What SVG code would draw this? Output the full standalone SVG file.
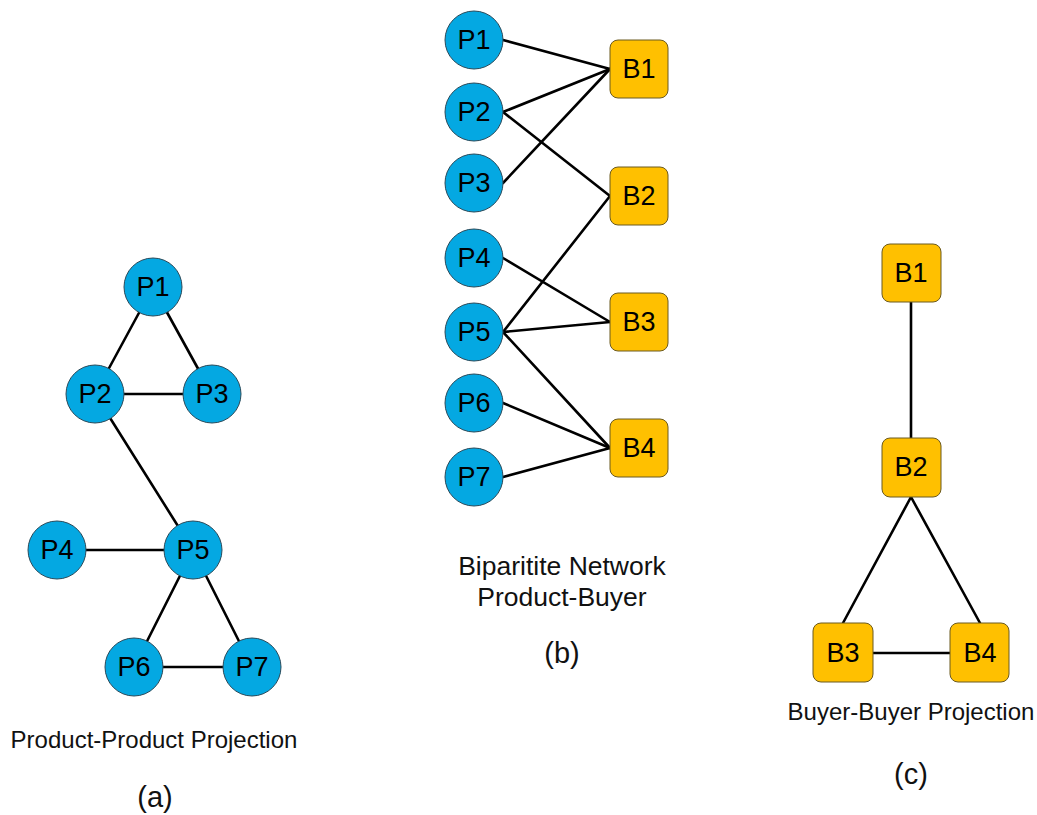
<svg xmlns="http://www.w3.org/2000/svg" width="1037" height="815" viewBox="0 0 1037 815">
<style>
.p{fill:#04A8E2;stroke:#2a4a5a;stroke-width:1}
.b{fill:#FFC000;stroke:#6b5a20;stroke-width:1}
.t{font-family:"Liberation Sans",Arial,sans-serif;font-size:27px;fill:#000;text-anchor:middle}
.c{font-family:"Liberation Sans",Arial,sans-serif;fill:#111;text-anchor:middle}
.e{stroke:#000;stroke-width:2.6;fill:none;stroke-linecap:round}
</style>
<rect width="1037" height="815" fill="#fff"/>
<g id="connectors">
<line class="e" x1="153" y1="287" x2="95" y2="394"/>
<line class="e" x1="153" y1="287" x2="212" y2="394"/>
<line class="e" x1="95" y1="394" x2="212" y2="394"/>
<line class="e" x1="95" y1="394" x2="193" y2="550"/>
<line class="e" x1="57" y1="550" x2="193" y2="550"/>
<line class="e" x1="193" y1="550" x2="134" y2="667"/>
<line class="e" x1="193" y1="550" x2="252" y2="667"/>
<line class="e" x1="134" y1="667" x2="252" y2="667"/>
<line class="e" x1="503" y1="40" x2="610" y2="69"/>
<line class="e" x1="503" y1="112" x2="610" y2="69"/>
<line class="e" x1="503" y1="112" x2="610" y2="196"/>
<line class="e" x1="503" y1="183" x2="610" y2="69"/>
<line class="e" x1="503" y1="258" x2="610" y2="322"/>
<line class="e" x1="503" y1="332" x2="610" y2="196"/>
<line class="e" x1="503" y1="332" x2="610" y2="322"/>
<line class="e" x1="503" y1="332" x2="610" y2="448"/>
<line class="e" x1="503" y1="403" x2="610" y2="448"/>
<line class="e" x1="503" y1="477" x2="610" y2="448"/>
<line class="e" x1="911" y1="302" x2="911" y2="438"/>
<line class="e" x1="911" y1="497" x2="843" y2="623"/>
<line class="e" x1="911" y1="497" x2="980" y2="623"/>
<line class="e" x1="873" y1="653" x2="950" y2="653"/>
</g>
<g id="a-P1"><circle class="p" cx="153" cy="287" r="29"/><text class="t" x="153" y="296">P1</text></g>
<g id="a-P2"><circle class="p" cx="95" cy="394" r="29"/><text class="t" x="95" y="403">P2</text></g>
<g id="a-P3"><circle class="p" cx="212" cy="394" r="29"/><text class="t" x="212" y="403">P3</text></g>
<g id="a-P4"><circle class="p" cx="57" cy="550" r="29"/><text class="t" x="57" y="559">P4</text></g>
<g id="a-P5"><circle class="p" cx="193" cy="550" r="29"/><text class="t" x="193" y="559">P5</text></g>
<g id="a-P6"><circle class="p" cx="134" cy="667" r="29"/><text class="t" x="134" y="676">P6</text></g>
<g id="a-P7"><circle class="p" cx="252" cy="667" r="29"/><text class="t" x="252" y="676">P7</text></g>
<g id="b-P1"><circle class="p" cx="474" cy="40" r="29"/><text class="t" x="474" y="49">P1</text></g>
<g id="b-P2"><circle class="p" cx="474" cy="112" r="29"/><text class="t" x="474" y="121">P2</text></g>
<g id="b-P3"><circle class="p" cx="474" cy="183" r="29"/><text class="t" x="474" y="192">P3</text></g>
<g id="b-P4"><circle class="p" cx="474" cy="258" r="29"/><text class="t" x="474" y="267">P4</text></g>
<g id="b-P5"><circle class="p" cx="474" cy="332" r="29"/><text class="t" x="474" y="341">P5</text></g>
<g id="b-P6"><circle class="p" cx="474" cy="403" r="29"/><text class="t" x="474" y="412">P6</text></g>
<g id="b-P7"><circle class="p" cx="474" cy="477" r="29"/><text class="t" x="474" y="486">P7</text></g>
<g id="b-B1"><rect class="b" x="610" y="40" width="58" height="58" rx="8"/><text class="t" x="639" y="78">B1</text></g>
<g id="b-B2"><rect class="b" x="610" y="167" width="58" height="58" rx="8"/><text class="t" x="639" y="205">B2</text></g>
<g id="b-B3"><rect class="b" x="610" y="293" width="58" height="58" rx="8"/><text class="t" x="639" y="331">B3</text></g>
<g id="b-B4"><rect class="b" x="610" y="419" width="58" height="58" rx="8"/><text class="t" x="639" y="457">B4</text></g>
<g id="c-B1"><rect class="b" x="882" y="244" width="59" height="58" rx="8"/><text class="t" x="911" y="282">B1</text></g>
<g id="c-B2"><rect class="b" x="882" y="438" width="59" height="59" rx="8"/><text class="t" x="911" y="476">B2</text></g>
<g id="c-B3"><rect class="b" x="813" y="623" width="60" height="59" rx="8"/><text class="t" x="843" y="662">B3</text></g>
<g id="c-B4"><rect class="b" x="950" y="623" width="59" height="59" rx="8"/><text class="t" x="980" y="662">B4</text></g>
<g id="captions">
<text class="c" x="154" y="748" font-size="24">Product-Product Projection</text>
<text class="c" x="155" y="807" font-size="29">(a)</text>
<text class="c" x="562" y="575" font-size="26.5">Biparitite Network</text>
<text class="c" x="562" y="606" font-size="26.5">Product-Buyer</text>
<text class="c" x="562" y="663" font-size="29">(b)</text>
<text class="c" x="911" y="784" font-size="29">(c)</text>
<text class="c" x="911" y="720" font-size="24">Buyer-Buyer Projection</text>
</g>
</svg>
